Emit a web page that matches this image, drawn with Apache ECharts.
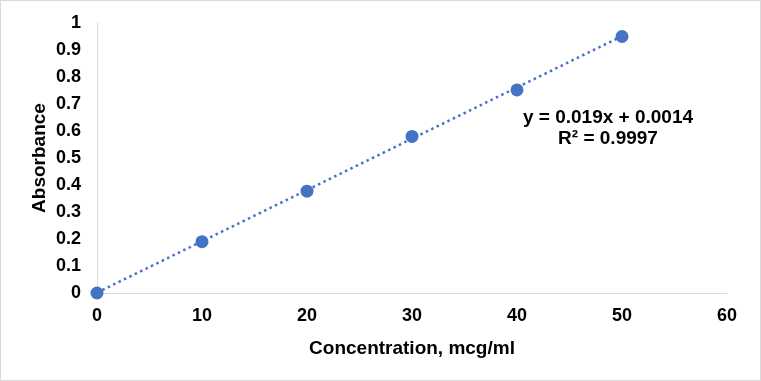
<!DOCTYPE html>
<html>
<head>
<meta charset="utf-8">
<script src="https://cdn.jsdelivr.net/npm/echarts@6/dist/echarts.min.js"></script>
<style>
html,body{margin:0;padding:0;background:#fff;}
#wrap{position:absolute;left:0;top:0;width:759px;height:379px;border:1px solid #d9d9d9;}
#c{width:759px;height:379px;}
</style>
</head>
<body>
<div id="wrap"><div id="c"></div></div>
<script>
const concentration = [0, 10, 20, 30, 40, 50];
const absorbance = [0, 0.19, 0.377, 0.58, 0.752, 0.95];
const trendX = [0, 50];
const trendY = [0.0014, 0.9514];
const equationText = 'y = 0.019x + 0.0014';
const r2Text = 'R² = 0.9997';
const xTitle = 'Concentration, mcg/ml';
const yTitle = 'Absorbance';

const font = 'Liberation Sans, Arial, sans-serif';
const chart = echarts.init(document.getElementById('c'));
chart.setOption({
  animation: false,
  grid: {left: 96, right: 33, top: 22, bottom: 87},
  xAxis: {
    type: 'value', min: 0, max: 60, interval: 10,
    name: xTitle, nameLocation: 'middle', nameGap: 46,
    nameTextStyle: {fontFamily: font, fontSize: 19, fontWeight: 'bold', color: '#000'},
    axisLine: {show: true, lineStyle: {color: '#d9d9d9', width: 1}},
    axisTick: {show: false},
    splitLine: {show: false},
    axisLabel: {fontFamily: font, fontSize: 18, fontWeight: 'bold', color: '#000', margin: 14}
  },
  yAxis: {
    type: 'value', min: 0, max: 1, interval: 0.1,
    name: yTitle, nameLocation: 'middle', nameGap: 48, nameMoveOverlap: false,
    nameTextStyle: {fontFamily: font, fontSize: 19, fontWeight: 'bold', color: '#000'},
    axisLine: {show: true, lineStyle: {color: '#d9d9d9', width: 1}},
    axisTick: {show: false},
    splitLine: {show: false},
    axisLabel: {fontFamily: font, fontSize: 18, fontWeight: 'bold', color: '#000', margin: 16,
      formatter: v => String(Math.round(v * 10) / 10)}
  },
  series: [
    {
      type: 'line', data: trendX.map((x, i) => [x, trendY[i]]),
      showSymbol: false, symbol: 'none', silent: true,
      lineStyle: {color: '#4472c4', width: 2.5, type: [2.5, 3.5], cap: 'butt'}, z: 1
    },
    {
      type: 'scatter', data: concentration.map((x, i) => [x, absorbance[i]]),
      symbolSize: 13, itemStyle: {color: '#4472c4', opacity: 1}, z: 2
    }
  ],
  graphic: [
    {type: 'text', x: 607, y: 107, style: {text: equationText, font: 'bold 19px ' + font, fill: '#000', align: 'center'}},
    {type: 'text', x: 607, y: 128, style: {text: r2Text, font: 'bold 19px ' + font, fill: '#000', align: 'center'}}
  ]
});
</script>
</body>
</html>
